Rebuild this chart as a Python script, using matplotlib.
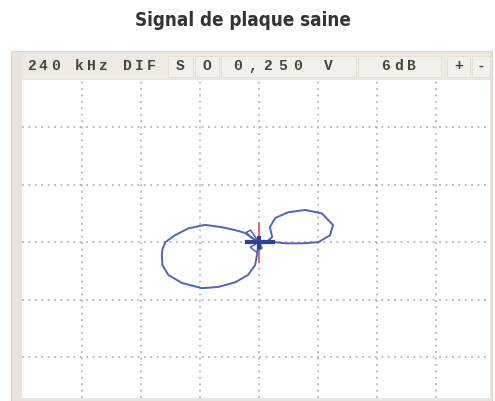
import matplotlib
matplotlib.use("Agg")
import matplotlib.pyplot as plt
from matplotlib.patches import Rectangle

# Impedance-plane trace (divisions; screen centre = balance point)
trace_x = [0.00, 0.06, 0.28, 0.45, 0.74, 1.01, 1.21, 1.26, 1.07, 0.79, 0.50, 0.28, 0.19,
           0.23, 0.13, 0.00, -0.11, -0.23, -0.40, -0.62, -0.91, -1.19, -1.42, -1.58,
           -1.63, -1.64, -1.63, -1.53, -1.30, -0.96, -0.69, -0.40, -0.18, -0.06, -0.03, 0.00]
trace_y = [0.00, -0.02, 0.00, -0.02, -0.02, 0.00, 0.12, 0.30, 0.50, 0.56, 0.52, 0.42, 0.26,
           0.09, 0.00, 0.00, 0.07, 0.16, 0.21, 0.26, 0.30, 0.24, 0.12, 0.00,
           -0.12, -0.23, -0.40, -0.57, -0.71, -0.80, -0.78, -0.70, -0.57, -0.40, -0.23, 0.00]

# Small tangle around the balance point
knot_x = [0.00, -0.14, -0.21, -0.14, -0.07, 0.00, 0.06, -0.04, -0.14, 0.00]
knot_y = [0.00, 0.10, 0.17, 0.21, 0.11, 0.00, -0.10, -0.17, -0.09, 0.00]

# Instrument settings shown in the header bar
freq_label = "240 kHz DIF"
mode_labels = ["S", "O"]
volt_label = "0,250 V"
gain_label = "6dB"
button_labels = ["+", "-"]
title = "Signal de plaque saine"

W, H = 495, 401
fig = plt.figure(figsize=(W / 100, H / 100), dpi=100)
fig.patch.set_facecolor("white")


def fx(px):
    return px / W


def fy(py):
    return 1 - py / H


# Instrument frame and header bar
fig.patches.append(Rectangle((fx(11), fy(401)), fx(492) - fx(11), fy(51) - fy(401),
                             transform=fig.transFigure, facecolor="#ebe4de",
                             edgecolor="#dcd4cc", lw=0.8, zorder=0))
fig.patches.append(Rectangle((fx(22), fy(79)), fx(490) - fx(22), fy(54) - fy(79),
                             transform=fig.transFigure, facecolor="#eee9e3",
                             edgecolor="none", zorder=1))
for x0, x1 in [(168, 193), (195, 219), (221, 356), (358, 441), (447, 470), (472, 490)]:
    fig.patches.append(Rectangle((fx(x0), fy(77)), fx(x1) - fx(x0), fy(56) - fy(77),
                                 transform=fig.transFigure, facecolor="#f3f0ec",
                                 edgecolor="#e2dcd5", lw=0.6, zorder=2))

hdr = dict(family="Liberation Mono", fontweight="bold", fontsize=10.5,
           color="#45453a", va="center", ha="center", zorder=3)
ty = fy(66)


def spaced(text, x_first, pitch):
    # pixel-font style: one glyph per fixed-width cell
    for i, ch in enumerate(text):
        if ch != " ":
            fig.text(fx(x_first + i * pitch), ty, ch, **hdr)


spaced(freq_label, 31, 12.0)
fig.text(fx(180.5), ty, mode_labels[0], **hdr)
fig.text(fx(207), ty, mode_labels[1], **hdr)
spaced(volt_label, 238, 15.0)
spaced(gain_label, 386, 12.5)
fig.text(fx(459), ty, button_labels[0], **hdr)
fig.text(fx(481), ty, button_labels[1], **hdr)

fig.text(fx(243), fy(21), title, ha="center", va="center", fontsize=13.5,
         fontweight="heavy", fontstretch="condensed", color="#333333",
         family="DejaVu Sans")

# Screen
ax = fig.add_axes([fx(22), fy(398), fx(490) - fx(22), fy(80) - fy(398)])
ax.set_zorder(5)
ax.set_xlim(-4.01, 3.92)
ax.set_ylim(-2.71, 2.82)
ax.set_facecolor("white")
for s in ax.spines.values():
    s.set_visible(False)
ax.set_xticks([])
ax.set_yticks([])

grid_style = dict(color="#a8a8a8", lw=1.1, linestyle=(0, (1.2, 3.0)), zorder=1)
for gx in range(-3, 4):
    ax.axvline(gx, **grid_style)
for gy in range(-2, 3):
    ax.axhline(gy, **grid_style)

# Balance cross and trace
ax.plot([0, 0], [-0.35, 0.33], color="#e0605a", lw=1.3, zorder=2)
ax.plot(trace_x, trace_y, color="#4f64b4", lw=1.4, zorder=3)
ax.plot(knot_x, knot_y, color="#4f64b4", lw=1.1, zorder=3)
ax.plot([-0.2, 0.25], [0, 0], color="#2c3f9c", lw=3.0, zorder=4)
ax.plot([0, 0], [-0.08, 0.08], color="#2c3f9c", lw=3.0, zorder=4)

fig.savefig("out.png", dpi=100, facecolor="white")
